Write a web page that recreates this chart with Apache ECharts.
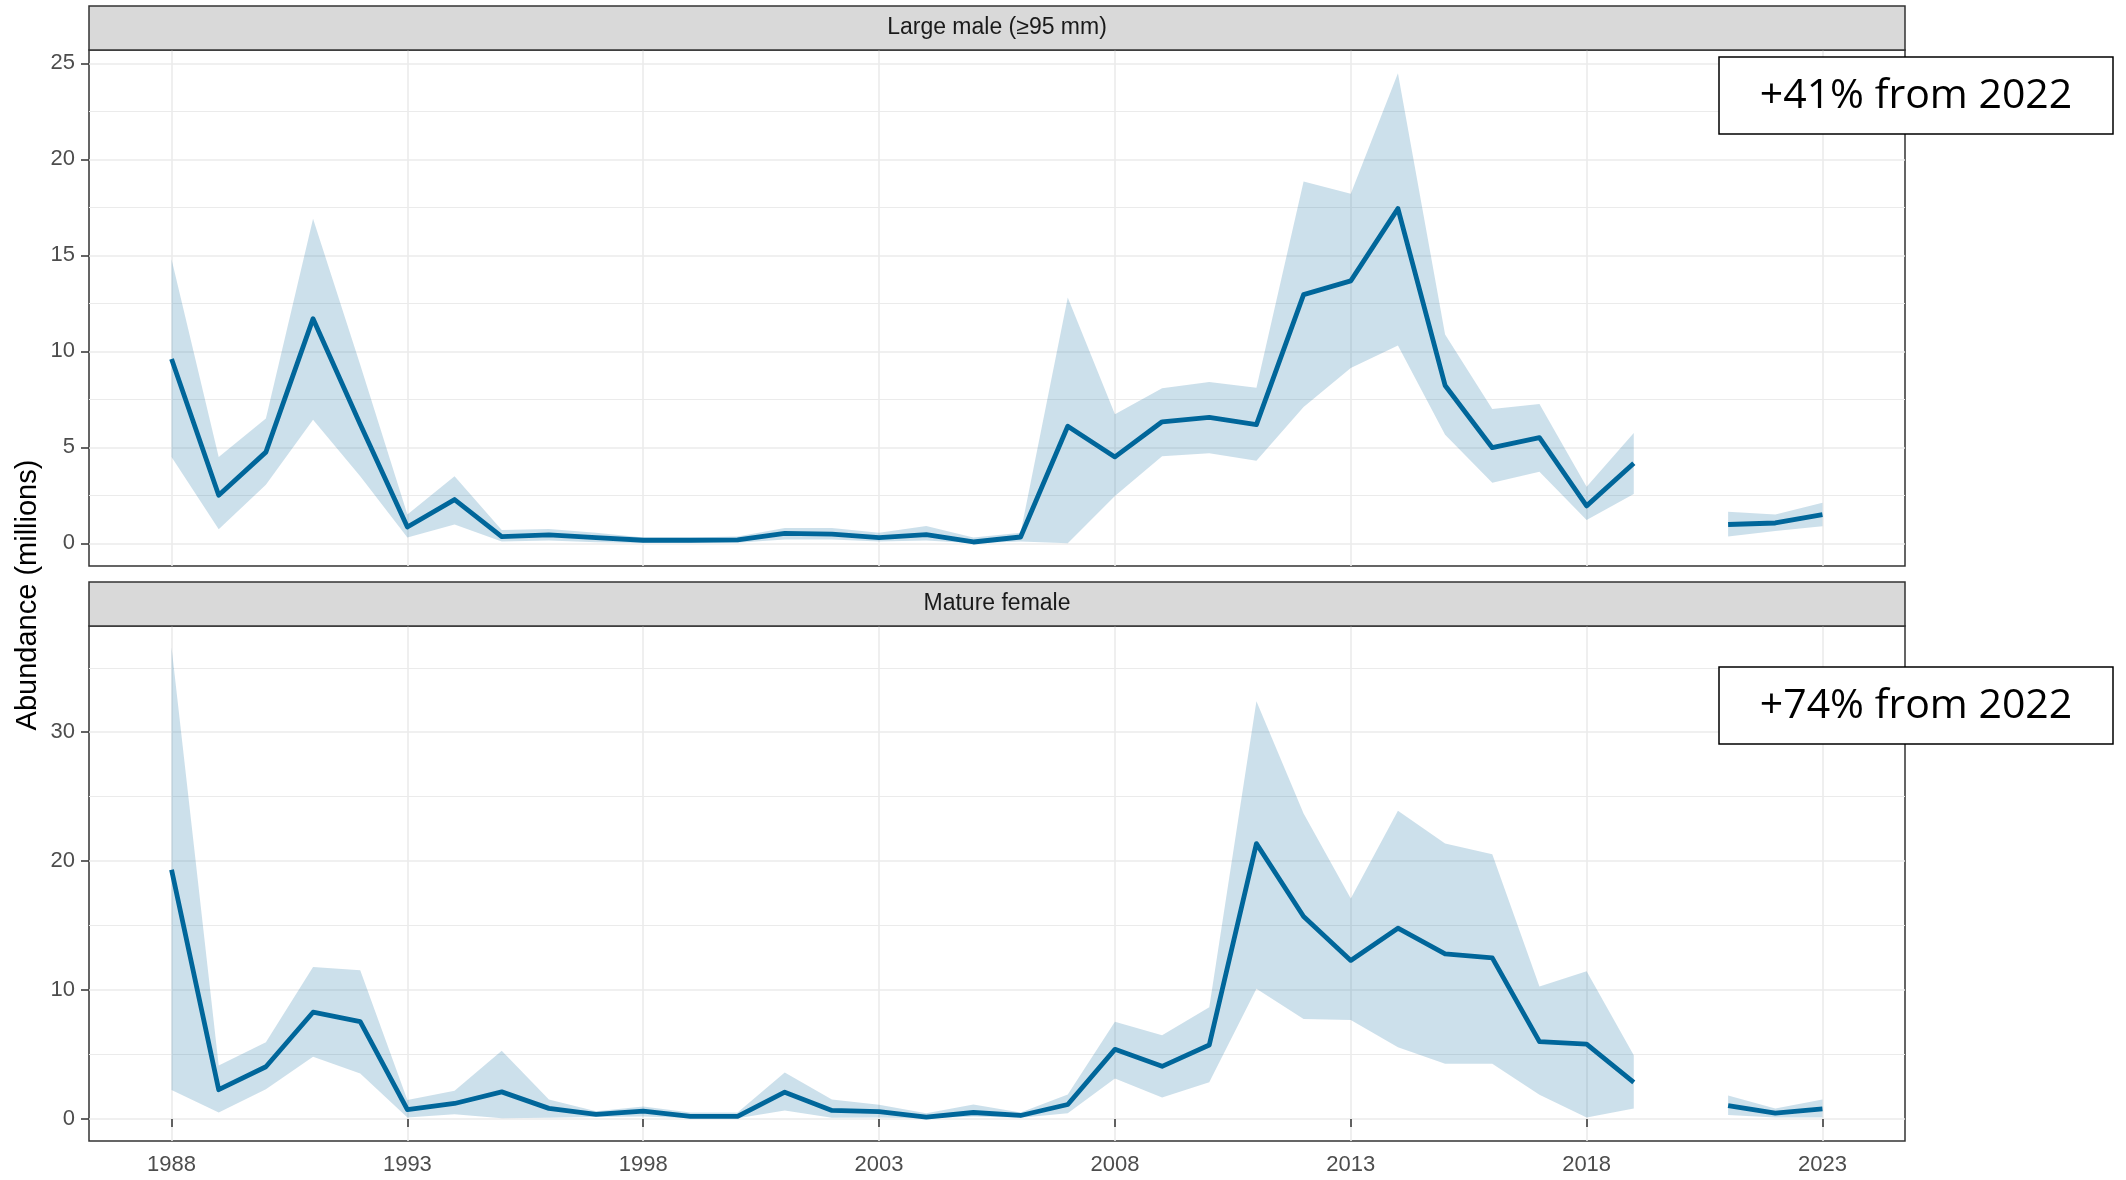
<!DOCTYPE html>
<html>
<head>
<meta charset="utf-8">
<script src="https://cdn.jsdelivr.net/npm/echarts@6/dist/echarts.min.js"></script>
<style>
html,body{margin:0;padding:0;background:#fff;}
#chart{width:2126px;height:1180px;}
</style>
</head>
<body>
<div id="chart"></div>
<script>
// ---- data ----
const years = [1988,1989,1990,1991,1992,1993,1994,1995,1996,1997,1998,1999,2000,2001,2002,2003,2004,2005,2006,2007,2008,2009,2010,2011,2012,2013,2014,2015,2016,2017,2018,2019,2020,2021,2022,2023];
const xTickLabels = [1988,1993,1998,2003,2008,2013,2018,2023];

const panelTitles = ['Large male (\u226595 mm)', 'Mature female'];
const annotations = ['+41% from 2022', '+74% from 2022'];

const maleEst   = [9.6,2.5,4.75,11.7,6.2,0.85,2.28,0.35,0.44,0.3,0.16,0.16,0.18,0.52,0.48,0.3,0.45,0.07,0.33,6.1,4.5,6.33,6.56,6.18,12.95,13.67,17.43,8.22,4.98,5.5,1.95,4.17,null,0.98,1.06,1.5];
const maleUpper = [14.8,4.5,6.5,16.9,9.3,1.5,3.5,0.7,0.75,0.55,0.3,0.3,0.35,0.8,0.8,0.55,0.9,0.3,0.55,12.8,6.72,8.07,8.4,8.1,18.84,18.2,24.48,10.87,7.0,7.26,2.95,5.75,null,1.64,1.5,2.12];
const maleLower = [4.5,0.73,3.05,6.43,3.5,0.3,0.98,0.1,0.15,0.06,0.02,0.03,0.03,0.2,0.2,0.1,0.15,0.0,0.1,0.0,2.47,4.54,4.69,4.3,7.1,9.13,10.3,5.66,3.15,3.73,1.22,2.57,null,0.35,0.64,0.89];

const femaleEst   = [19.34,2.27,4.05,8.28,7.55,0.73,1.2,2.1,0.82,0.36,0.6,0.2,0.2,2.08,0.66,0.57,0.15,0.5,0.27,1.12,5.4,4.08,5.74,21.36,15.7,12.3,14.8,12.8,12.5,6.0,5.8,2.84,null,1.03,0.45,0.79];
const femaleUpper = [36.6,4.14,5.95,11.78,11.54,1.48,2.18,5.29,1.5,0.6,0.97,0.5,0.5,3.6,1.5,1.1,0.45,1.12,0.5,1.9,7.55,6.5,8.67,32.4,23.7,17.1,23.9,21.36,20.54,10.27,11.45,4.95,null,1.81,0.82,1.51];
const femaleLower = [2.25,0.5,2.3,4.83,3.53,0.12,0.36,0.06,0.1,0.15,0.2,0.05,0.05,0.66,0.1,0.12,0.04,0.2,0.1,0.45,3.14,1.66,2.84,10.1,7.76,7.67,5.56,4.29,4.29,1.87,0.12,0.82,null,0.3,0.12,0.12];

const maleYTicks = [0,5,10,15,20,25];
const maleYMinor = [2.5,7.5,12.5,17.5,22.5];
const femaleYTicks = [0,10,20,30];
const femaleYMinor = [5,15,25,35];

// ---- styling ----
const LINE = '#00669a';
const BAND = 'rgba(0,102,154,0.2)';
const GRID_C = '#ebebeb';
const AX_TXT = '#4d4d4d';
const FONT = 'Liberation Sans, Arial, sans-serif';

const L = 89, W = 1816;
const grids = [
  {left: L, width: W, top: 50, height: 516},
  {left: L, width: W, top: 626, height: 515}
];
const yRanges = [[-1.18, 25.69], [-1.71, 38.24]];

function pairs(arr){ return years.map((y,i)=>[y, arr[i]]); }
// contiguous runs of non-null values -> [startYear, endYear]
function runs(up, lo){
  const out = []; let s = null;
  years.forEach((y,i)=>{
    const ok = up[i]!=null && lo[i]!=null;
    if (ok && s===null) s = i;
    if ((!ok || i===years.length-1) && s!==null){
      const e = ok ? i : i-1;
      out.push([years[s], years[e]]);
      s = null;
    }
  });
  return out;
}

const chart = echarts.init(document.getElementById('chart'), null, {renderer:'canvas'});

const xAxes = [], yAxes = [], series = [];
const panels = [
  {est: maleEst, up: maleUpper, lo: maleLower, ticks: maleYTicks, minor: maleYMinor},
  {est: femaleEst, up: femaleUpper, lo: femaleLower, ticks: femaleYTicks, minor: femaleYMinor}
];

panels.forEach((p, k) => {
  const showX = k === 1;
  xAxes.push({
    type:'value', gridIndex:k, min:1986.25, max:2024.75,
    axisLine:{show:false},
    axisTick:{show:showX, customValues:xTickLabels, length:8, lineStyle:{color:'#333333', width:1.5}},
    axisLabel:{show:showX, customValues:xTickLabels, color:AX_TXT, fontSize:22, fontFamily:FONT, margin:13,
               formatter: v => String(v)},
    splitLine:{show:true, lineStyle:{color:GRID_C, width:1.6}}
  });
  yAxes.push({
    type:'value', gridIndex:k, min:yRanges[k][0], max:yRanges[k][1],
    axisLine:{show:false},
    axisTick:{show:true, customValues:p.ticks, length:8, lineStyle:{color:'#333333', width:1.5}},
    axisLabel:{show:true, customValues:p.ticks, color:AX_TXT, fontSize:22, fontFamily:FONT, margin:14,
               formatter: v => String(v)},
    splitLine:{show:true, lineStyle:{color:GRID_C, width:1.6}}
  });
  // minor gridlines
  yAxes.push({
    type:'value', gridIndex:k, min:yRanges[k][0], max:yRanges[k][1], position:'left',
    axisLine:{show:false},
    axisTick:{show:false, customValues:p.minor},
    axisLabel:{show:false, customValues:p.minor},
    splitLine:{show:true, lineStyle:{color:GRID_C, width:1.1}}
  });
  const yi = k*2;
  const up = p.up, lo = p.lo;
  series.push({
    type:'custom', xAxisIndex:k, yAxisIndex:yi, data: runs(up, lo), silent:true, z:2,
    encode:{x:[0,1]},
    renderItem: function(params, api){
      const s = years.indexOf(api.value(0)), e = years.indexOf(api.value(1));
      const pts = [];
      for (let i=s;i<=e;i++) pts.push(api.coord([years[i], up[i]]));
      for (let i=e;i>=s;i--) pts.push(api.coord([years[i], lo[i]]));
      return {type:'polygon', shape:{points:pts}, style:{fill:BAND}};
    }
  });
  series.push({
    type:'line', xAxisIndex:k, yAxisIndex:yi, data:pairs(p.est),
    symbol:'none', lineStyle:{color:LINE, width:4.8, join:'round'}, connectNulls:false, z:3
  });
});

const graphics = [];
// strips
[6, 582].forEach((y, k) => {
  graphics.push({type:'rect', shape:{x:L, y:y, width:W, height:44},
    style:{fill:'#d9d9d9', stroke:'#333333', lineWidth:1.5}, z:10});
  graphics.push({type:'text', x:L+W/2, y:y+22,
    style:{text:panelTitles[k], fill:'#1a1a1a', font:'23px '+FONT, textAlign:'center', textVerticalAlign:'middle'}, z:11});
});
// annotation boxes
[57, 667].forEach((y, k) => {
  graphics.push({type:'rect', shape:{x:1719, y:y, width:394, height:77},
    style:{fill:'#ffffff', stroke:'#000000', lineWidth:1.5}, z:20});
  graphics.push({type:'text', x:1916, y:y+39,
    style:{text:annotations[k], fill:'#000000', font:'41px "Open Sans", sans-serif', textAlign:'center', textVerticalAlign:'middle'}, z:21});
});
// y axis title
graphics.push({type:'text', x:28, y:595, rotation:Math.PI/2,
  style:{text:'Abundance (millions)', fill:'#000000', font:'29px '+FONT, textAlign:'center', textVerticalAlign:'middle'}, z:11});

chart.setOption({
  backgroundColor:'#ffffff',
  animation:false,
  grid: grids.map(g => Object.assign({show:true, backgroundColor:'#ffffff', borderColor:'#333333', borderWidth:1.5}, g)),
  xAxis: xAxes,
  yAxis: yAxes,
  series: series,
  graphic: graphics
});
</script>
</body>
</html>
